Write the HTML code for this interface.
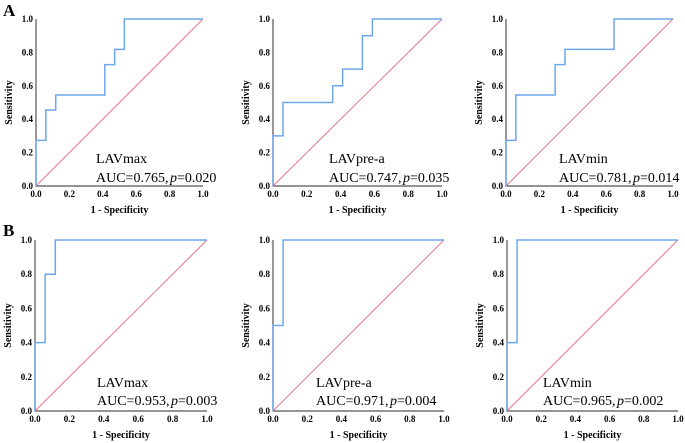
<!DOCTYPE html>
<html><head><meta charset="utf-8"><style>
body{margin:0;background:#fff;}
svg{display:block;font-family:"Liberation Serif",serif;}
</style></head><body>
<svg id="fig" width="685" height="443" viewBox="0 0 685 443">
<text x="3" y="16" font-size="17" font-weight="bold">A</text>
<text x="3" y="236" font-size="17" font-weight="bold">B</text>
</svg>
<script>
const ticks = [0, 0.2, 0.4, 0.6, 0.8, 1.0];
const names = ["LAVmax","LAVpre-a","LAVmin","LAVmax","LAVpre-a","LAVmin"];
const aucs = ["0.765","0.747","0.781","0.953","0.971","0.965"];
const pvals = ["0.020","0.035","0.014","0.003","0.004","0.002"];
const fprA1 = [0,0,0.059,0.059,0.118,0.118,0.412,0.412,0.471,0.471,0.529,0.529,1];
const tprA1 = [0,0.273,0.273,0.455,0.455,0.545,0.545,0.727,0.727,0.818,0.818,1,1];
const fprA2 = [0,0,0.059,0.059,0.353,0.353,0.412,0.412,0.529,0.529,0.588,0.588,1];
const tprA2 = [0,0.3,0.3,0.5,0.5,0.6,0.6,0.7,0.7,0.9,0.9,1,1];
const fprA3 = [0,0,0.059,0.059,0.294,0.294,0.353,0.353,0.647,0.647,1];
const tprA3 = [0,0.273,0.273,0.545,0.545,0.727,0.727,0.818,0.818,1,1];
const fprB1 = [0,0,0.059,0.059,0.118,0.118,1];
const tprB1 = [0,0.4,0.4,0.8,0.8,1,1];
const fprB2 = [0,0,0.059,0.059,1];
const tprB2 = [0,0.5,0.5,1,1];
const fprB3 = [0,0,0.059,0.059,1];
const tprB3 = [0,0.4,0.4,1,1];
const fprs = [fprA1,fprA2,fprA3,fprB1,fprB2,fprB3];
const tprs = [tprA1,tprA2,tprA3,tprB1,tprB2,tprB3];

const layout = [
 {x0:36,x1:203,y0:186,y1:19,tx:60,ly1:163,ly2:182},
 {x0:273,x1:442,y0:186,y1:19,tx:56,ly1:163,ly2:182},
 {x0:506,x1:673,y0:186,y1:19,tx:53,ly1:163,ly2:182},
 {x0:35,x1:207,y0:411,y1:240,tx:62,ly1:387,ly2:405},
 {x0:273,x1:444,y0:411,y1:240,tx:43,ly1:387,ly2:405},
 {x0:507,x1:678,y0:411,y1:240,tx:36,ly1:387,ly2:405}
];
const svg = document.getElementById('fig');
const NS = "http://www.w3.org/2000/svg";
function mk(tag, attrs, parent){
  const e = document.createElementNS(NS, tag);
  for (const k in attrs) e.setAttribute(k, attrs[k]);
  (parent||svg).appendChild(e);
  return e;
}
layout.forEach((L, i) => {
  const g = mk('g', {});
  
  
  const sx = v => L.x0 + v * (L.x1 - L.x0);
  const sy = v => L.y0 + v * (L.y1 - L.y0);
  const ax = mk('path', {d:`M${L.x0},${L.y1}V${L.y0}H${L.x1}`, fill:'none', stroke:'#555', 'stroke-width':1.2}, g);
  
  
  ticks.forEach(t => {
    const xt = mk('text', {x:sx(t), y:L.y0+11, 'font-size':9, 'font-weight':'bold', 'text-anchor':'middle'}, g);
    xt.textContent = t.toFixed(1);
    
    
    const yt = mk('text', {x:L.x0-3, y:sy(t)+3, 'font-size':9, 'font-weight':'bold', 'text-anchor':'end'}, g);
    yt.textContent = t.toFixed(1);
    
    
  });
  const xl = mk('text', {x:(L.x0+L.x1)/2, y:L.y0+27, 'font-size':10, 'font-weight':'bold', 'text-anchor':'middle'}, g);
  xl.textContent = '1 - Specificity';
  
  
  const ycx = L.x0 - 24, ycy = (L.y0+L.y1)/2;
  const yl = mk('text', {x:ycx, y:ycy, 'font-size':10, 'font-weight':'bold', 'text-anchor':'middle', transform:`rotate(-90 ${ycx} ${ycy})`}, g);
  yl.textContent = 'Sensitivity';
  
  
  const ref = mk('line', {x1:sx(0), y1:sy(0), x2:sx(1), y2:sy(1), stroke:'#e8758a', 'stroke-width':1}, g);
  
  
  const pts = fprs[i].map((f, j) => sx(f) + ',' + sy(tprs[i][j])).join(' ');
  const roc = mk('polyline', {points:pts, fill:'none', stroke:'#6ea6ea', 'stroke-width':1.5}, g);
  
  
  const n = mk('text', {x:L.x0+L.tx, y:L.ly1, 'font-size':14}, g);
  n.textContent = names[i];
  
  
  const a = mk('text', {x:L.x0+L.tx, y:L.ly2, 'font-size':14}, g);
  a.innerHTML = 'AUC=' + aucs[i] + ',<tspan dx="1.5" font-style="italic">p</tspan>=' + pvals[i];
  
  
});
</script>
</body></html>
